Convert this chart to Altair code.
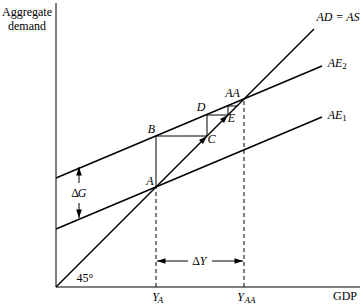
import altair as alt
import pandas as pd

# ---- model values (data units) ----
ae_x = [0, 266]
ae1_y = [58, 170]
ae2_y = [109, 221]
line45 = [0, 258]
ya, yaa = 100, 188
step_x = [100, 100, 151, 151, 172, 172, 181]
step_y = [100, 151, 151, 172, 172, 181, 181]
dy_level = 26
dg_x = 23
dg_top, dg_bot = 120, 69

# ---- labels ----
ital_text = ["A", "B", "C", "D", "E", "AA", "AD = AS", "AE", "AE", "Y", "Y", "G", "Y"]
ital_x = [94, 95.5, 155.5, 145, 175.5, 176.5, 282, 279, 279, 99.5, 184.5, 26, 147]
ital_y = [106, 158, 148, 180, 169, 194, 270, 224, 172, -10, -10, 94, 26]
sub_text = ["A", "AA"]
sub_x = [104.5, 194]
sub_y = [-13, -13]
rom_text = ["Aggregate", "demand", "GDP", "45°", "Δ", "Δ"]
rom_x = [-29, -29, 289, 29, 19, 140]
rom_y = [275, 261, -9, 9, 94, 26]
num_text = ["1", "2"]
num_x = [288.5, 288.5]
num_y = [169, 221]

X = alt.Scale(domain=[-56, 307], nice=False, zero=False)
Y = alt.Scale(domain=[-20, 287], nice=False, zero=False)


def segs(rows):
    return pd.DataFrame(rows, columns=["x", "y", "x2", "y2"])


def rule(df, width=1.0, dash=None):
    kw = dict(color="black", strokeWidth=width)
    if dash:
        kw["strokeDash"] = dash
    return alt.Chart(df).mark_rule(**kw).encode(
        x=alt.X("x:Q", scale=X, axis=None),
        y=alt.Y("y:Q", scale=Y, axis=None),
        x2="x2:Q",
        y2="y2:Q",
    )


axes = segs([[0, 0, 0, 284], [0, 0, 304, 0]])
main = segs([
    [line45[0], line45[0], line45[1], line45[1]],
    [ae_x[0], ae1_y[0], ae_x[1], ae1_y[1]],
    [ae_x[0], ae2_y[0], ae_x[1], ae2_y[1]],
])
stairs = segs([[step_x[i], step_y[i], step_x[i + 1], step_y[i + 1]] for i in range(len(step_x) - 1)])
arrows = segs([
    [ya + 1, dy_level, 132, dy_level],
    [156, dy_level, yaa - 1, dy_level],
    [dg_x, dg_top, dg_x, 104],
    [dg_x, 84, dg_x, dg_bot],
])
dashed = segs([[ya, 0, ya, ya], [yaa, 0, yaa, yaa]])

heads = pd.DataFrame({
    "x": [ya + 1, yaa - 1, dg_x, dg_x, step_x[2], step_x[4]],
    "y": [dy_level, dy_level, dg_top, dg_bot, step_y[2], step_y[4]],
    "ang": [270, 90, 0, 180, 45, 45],
})
head_layer = alt.Chart(heads).mark_point(
    filled=True, color="black", opacity=1, size=32, shape="M0,0L-1,3L1,3Z"
).encode(
    x=alt.X("x:Q", scale=X, axis=None),
    y=alt.Y("y:Q", scale=Y, axis=None),
    angle=alt.Angle("ang:Q", scale=None),
)


def text_layer(texts, xs, ys, size, style):
    df = pd.DataFrame({"x": xs, "y": ys, "t": texts})
    return alt.Chart(df).mark_text(
        font="Liberation Serif", fontSize=size, fontStyle=style, color="black",
        align="center", baseline="middle",
    ).encode(
        x=alt.X("x:Q", scale=X, axis=None),
        y=alt.Y("y:Q", scale=Y, axis=None),
        text="t:N",
    )


chart = alt.layer(
    rule(axes, 1.0),
    rule(dashed, 1.0, [4, 3]),
    rule(stairs, 1.0),
    rule(arrows, 1.0),
    rule(main, 1.5),
    head_layer,
    text_layer(ital_text, ital_x, ital_y, 12, "italic"),
    text_layer(sub_text, sub_x, sub_y, 9, "italic"),
    text_layer(rom_text, rom_x, rom_y, 12, "normal"),
    text_layer(num_text, num_x, num_y, 9, "normal"),
).properties(
    width=363, height=307, padding=0, autosize=alt.AutoSizeParams(type="none"),
    background="white",
).configure_view(stroke=None)

chart.save("out.html", embed_options={"renderer": "svg", "actions": False})
